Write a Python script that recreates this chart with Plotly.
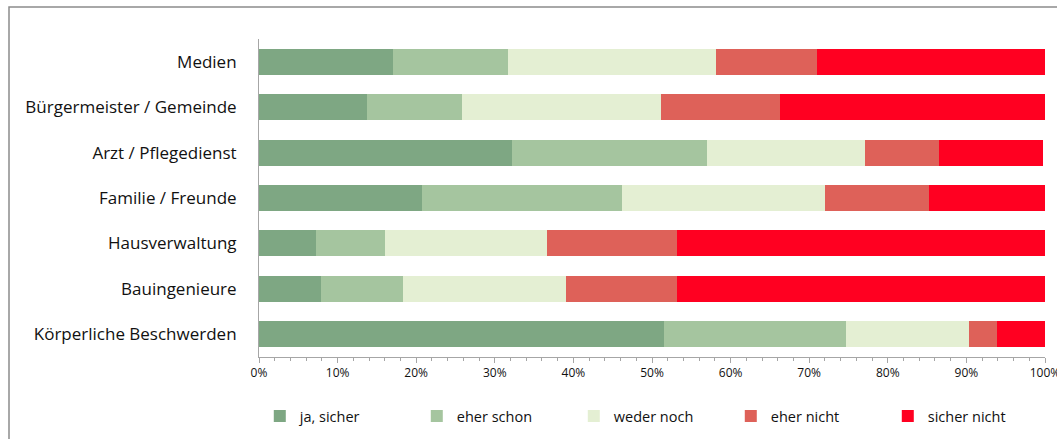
import plotly.graph_objects as go

categories = ["Medien", "Bürgermeister / Gemeinde", "Arzt / Pflegedienst",
              "Familie / Freunde", "Hausverwaltung", "Bauingenieure",
              "Körperliche Beschwerden"]
series_names = ["ja, sicher", "eher schon", "weder noch", "eher nicht", "sicher nicht"]
ja_sicher = [17.1, 13.7, 32.2, 20.7, 7.3, 7.9, 51.5]
eher_schon = [14.6, 12.1, 24.8, 25.5, 8.7, 10.4, 23.2]
weder_noch = [26.5, 25.4, 20.1, 25.8, 20.7, 20.8, 15.6]
eher_nicht = [12.8, 15.1, 9.4, 13.2, 16.5, 14.1, 3.6]
sicher_nicht = [29.0, 33.7, 13.3, 14.8, 46.8, 46.8, 6.1]
colors = ["#7EA783", "#A5C59F", "#E4EFD3", "#DE6159", "#FF0021"]
x_ticks = [0, 10, 20, 30, 40, 50, 60, 70, 80, 90, 100]
x_tick_labels = [f"{t}%" for t in x_ticks]

fig = go.Figure()
for name, vals, col in zip(series_names,
                           [ja_sicher, eher_schon, weder_noch, eher_nicht, sicher_nicht],
                           colors):
    fig.add_trace(go.Bar(y=categories, x=vals, name=name, orientation="h",
                         marker=dict(color=col, line=dict(width=0)),
                         hoverinfo="x+name"))

W, H = 1057, 439
ml, mr, mt, mb = 259, 12, 39, 82
PW, PH = W - ml - mr, H - mt - mb
fig.update_layout(
    width=W, height=H, barmode="stack", bargap=0.43,
    margin=dict(l=ml, r=mr, t=mt, b=mb, autoexpand=False),
    paper_bgcolor="white", plot_bgcolor="white",
    font=dict(family="Open Sans, sans-serif", color="#111111"),
    showlegend=True,
    legend=dict(orientation="h", x=0.001, xanchor="left", y=-0.186, yanchor="middle",
                font=dict(size=14.5), entrywidth=112, entrywidthmode="pixels",
                itemwidth=30, traceorder="normal", bgcolor="rgba(0,0,0,0)"),
    xaxis=dict(range=[0, 100], tickvals=x_ticks, ticktext=x_tick_labels,
               showgrid=False, zeroline=False, showline=True, linecolor="#A6A6A6",
               linewidth=1, ticks="outside", ticklen=5, tickcolor="#A6A6A6",
               tickfont=dict(size=12), ticklabeloverflow="allow",
               minor=dict(dtick=2, ticks="outside", ticklen=3, tickcolor="#A6A6A6")),
    yaxis=dict(categoryorder="array", categoryarray=categories[::-1],
               showgrid=False, zeroline=False, showline=True, linecolor="#A6A6A6",
               linewidth=1, ticks="", tickfont=dict(size=17), ticklabelstandoff=18),
    shapes=[dict(type="rect", xref="paper", yref="paper",
                 x0=(9 - ml) / PW, x1=(W + 10 - ml) / PW,
                 y0=-(mb + 10) / PH, y1=1 + (mt - 7) / PH,
                 line=dict(color="#8C8C8C", width=1.5), layer="below")],
)
fig.write_html("out.html", config={"displayModeBar": False})

with open("out.html", "r", encoding="utf-8") as f:
    html = f.read()
html = html.replace("<head>", "<head><style>html,body{margin:0;padding:0;overflow:hidden;}</style>", 1)
with open("out.html", "w", encoding="utf-8") as f:
    f.write(html)
